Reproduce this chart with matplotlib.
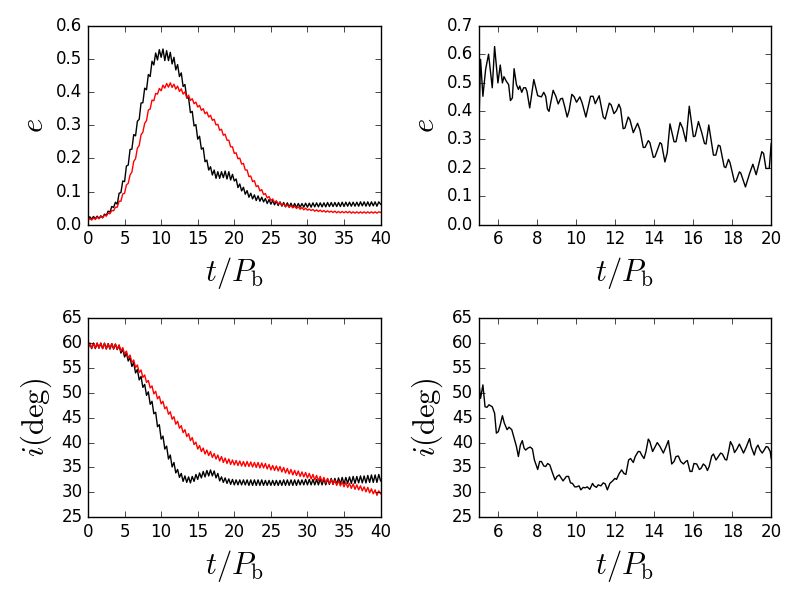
import numpy as np
import matplotlib
matplotlib.use('Agg')
import matplotlib.pyplot as plt

# left panels: sampled every 0.25 P_b from 0 to 40
t_left = np.arange(0, 40.01, 0.25)

e_black = [
    0.016, 0.024, 0.017, 0.025, 0.018, 0.026, 0.019, 0.027,
    0.021, 0.032, 0.028, 0.041, 0.038, 0.055, 0.052, 0.068,
    0.062, 0.095, 0.097, 0.132, 0.130, 0.177, 0.180, 0.227,
    0.228, 0.272, 0.268, 0.312, 0.318, 0.367, 0.368, 0.412,
    0.407, 0.453, 0.447, 0.493, 0.482, 0.518, 0.497, 0.528,
    0.505, 0.530, 0.495, 0.525, 0.495, 0.520, 0.485, 0.505,
    0.467, 0.483, 0.447, 0.458, 0.417, 0.423, 0.382, 0.383,
    0.338, 0.342, 0.298, 0.302, 0.258, 0.267, 0.228, 0.232,
    0.190, 0.195, 0.165, 0.175, 0.150, 0.165, 0.140, 0.160,
    0.140, 0.160, 0.142, 0.162, 0.138, 0.160, 0.135, 0.152,
    0.132, 0.138, 0.112, 0.123, 0.102, 0.113, 0.092, 0.103,
    0.083, 0.095, 0.078, 0.090, 0.073, 0.087, 0.071, 0.083,
    0.069, 0.079, 0.064, 0.076, 0.062, 0.073, 0.060, 0.071,
    0.058, 0.069, 0.056, 0.067, 0.054, 0.066, 0.053, 0.065,
    0.052, 0.064, 0.052, 0.064, 0.053, 0.064, 0.053, 0.065,
    0.053, 0.065, 0.053, 0.066, 0.054, 0.066, 0.054, 0.066,
    0.054, 0.066, 0.054, 0.067, 0.055, 0.067, 0.055, 0.067,
    0.055, 0.067, 0.055, 0.068, 0.055, 0.068, 0.056, 0.068,
    0.056, 0.068, 0.056, 0.068, 0.056, 0.069, 0.057, 0.069,
    0.056, 0.069, 0.056, 0.069, 0.057, 0.069, 0.056, 0.069,
    0.062,
]

e_red = [
    0.012, 0.019, 0.014, 0.021, 0.016, 0.023, 0.018, 0.025,
    0.021, 0.029, 0.026, 0.035, 0.033, 0.043, 0.042, 0.053,
    0.053, 0.071, 0.071, 0.093, 0.095, 0.120, 0.125, 0.150,
    0.159, 0.191, 0.199, 0.231, 0.239, 0.271, 0.279, 0.306,
    0.314, 0.346, 0.349, 0.376, 0.374, 0.396, 0.394, 0.411,
    0.404, 0.421, 0.412, 0.426, 0.415, 0.428, 0.414, 0.424,
    0.409, 0.418, 0.402, 0.410, 0.394, 0.401, 0.384, 0.391,
    0.375, 0.380, 0.365, 0.370, 0.355, 0.360, 0.345, 0.350,
    0.335, 0.340, 0.325, 0.330, 0.315, 0.318, 0.301, 0.303,
    0.285, 0.288, 0.270, 0.273, 0.255, 0.255, 0.235, 0.235,
    0.215, 0.217, 0.199, 0.201, 0.183, 0.185, 0.165, 0.165,
    0.145, 0.147, 0.130, 0.133, 0.115, 0.118, 0.102, 0.106,
    0.091, 0.094, 0.081, 0.085, 0.073, 0.078, 0.067, 0.072,
    0.063, 0.067, 0.059, 0.063, 0.055, 0.060, 0.053, 0.058,
    0.051, 0.056, 0.049, 0.054, 0.047, 0.052, 0.045, 0.050,
    0.044, 0.047, 0.043, 0.046, 0.041, 0.045, 0.040, 0.044,
    0.039, 0.043, 0.038, 0.042, 0.038, 0.041, 0.037, 0.041,
    0.036, 0.040, 0.036, 0.040, 0.036, 0.040, 0.036, 0.040,
    0.035, 0.039, 0.035, 0.039, 0.035, 0.039, 0.035, 0.039,
    0.035, 0.039, 0.035, 0.039, 0.035, 0.039, 0.035, 0.039,
    0.037,
]

i_black = [
    58.9, 60.0, 58.9, 60.0, 58.9, 60.0, 59.0, 60.0,
    58.9, 60.0, 58.8, 59.9, 58.8, 59.9, 58.8, 59.8,
    58.7, 59.6, 58.0, 58.8, 57.2, 58.0, 56.4, 57.1,
    55.3, 56.1, 54.0, 54.7, 52.6, 53.3, 51.1, 51.7,
    49.5, 50.2, 47.7, 48.3, 45.8, 46.1, 43.2, 43.6,
    40.7, 41.3, 38.7, 39.3, 36.7, 37.5, 35.1, 36.0,
    33.9, 34.6, 33.0, 33.8, 32.2, 33.3, 32.0, 33.1,
    31.9, 33.2, 32.2, 33.6, 32.6, 33.9, 32.9, 34.2,
    33.1, 34.4, 33.3, 34.5, 33.3, 34.3, 32.9, 33.8,
    32.3, 33.1, 32.0, 32.9, 31.8, 32.7, 31.6, 32.6,
    31.5, 32.5, 31.5, 32.5, 31.5, 32.5, 31.5, 32.5,
    31.4, 32.5, 31.4, 32.5, 31.4, 32.5, 31.4, 32.5,
    31.4, 32.4, 31.4, 32.4, 31.4, 32.4, 31.4, 32.4,
    31.4, 32.4, 31.4, 32.5, 31.4, 32.5, 31.4, 32.5,
    31.4, 32.5, 31.4, 32.5, 31.5, 32.5, 31.5, 32.6,
    31.5, 32.6, 31.5, 32.6, 31.5, 32.6, 31.5, 32.7,
    31.5, 32.7, 31.5, 32.7, 31.6, 32.8, 31.6, 32.8,
    31.6, 32.9, 31.7, 33.0, 31.7, 33.0, 31.8, 33.1,
    31.8, 33.2, 31.8, 33.2, 31.9, 33.3, 31.9, 33.3,
    31.9, 33.4, 32.0, 33.5, 32.0, 33.5, 32.0, 33.6,
    32.3,
]

i_red = [
    59.0, 60.0, 59.0, 60.0, 59.0, 60.0, 59.0, 60.0,
    58.9, 59.9, 58.9, 59.9, 58.9, 59.9, 58.9, 59.8,
    58.8, 59.6, 58.4, 59.1, 57.8, 58.4, 57.0, 57.6,
    56.1, 56.6, 55.1, 55.6, 54.1, 54.6, 53.1, 53.6,
    52.1, 52.5, 51.0, 51.4, 49.8, 50.3, 48.8, 49.3,
    47.8, 48.3, 46.8, 47.2, 45.7, 46.2, 44.7, 45.2,
    43.7, 44.3, 42.9, 43.4, 42.0, 42.6, 41.2, 41.8,
    40.4, 41.0, 39.6, 40.1, 38.7, 39.4, 38.2, 38.9,
    37.7, 38.5, 37.4, 38.2, 37.0, 37.8, 36.7, 37.5,
    36.3, 37.2, 36.0, 36.9, 35.8, 36.7, 35.6, 36.5,
    35.5, 36.4, 35.4, 36.3, 35.3, 36.2, 35.2, 36.2,
    35.2, 36.1, 35.1, 36.0, 35.0, 36.0, 34.9, 35.9,
    34.9, 35.8, 34.7, 35.6, 34.5, 35.4, 34.4, 35.3,
    34.3, 35.2, 34.1, 35.0, 33.9, 34.8, 33.7, 34.6,
    33.5, 34.4, 33.4, 34.3, 33.2, 34.1, 33.1, 34.0,
    32.9, 33.8, 32.7, 33.6, 32.5, 33.4, 32.3, 33.2,
    32.1, 33.0, 31.9, 32.8, 31.8, 32.6, 31.6, 32.4,
    31.4, 32.3, 31.3, 32.1, 31.1, 32.0, 31.0, 31.8,
    30.8, 31.7, 30.6, 31.5, 30.5, 31.3, 30.3, 31.1,
    30.1, 31.0, 29.9, 30.7, 29.7, 30.5, 29.4, 30.3,
    29.7,
]

# right panels: turning points, t from 5 to 20
t_e_zoom = [
    5.00, 5.10, 5.22, 5.36, 5.51, 5.70, 5.82, 5.99, 6.11, 6.22, 6.30, 6.42,
    6.54, 6.63, 6.73, 6.82, 6.94, 7.04, 7.11, 7.21, 7.31, 7.41, 7.48, 7.62,
    7.83, 8.03, 8.22, 8.34, 8.44, 8.53, 8.61, 8.82, 8.96, 9.08, 9.20, 9.30,
    9.42, 9.54, 9.64, 9.78, 9.90, 10.02, 10.19, 10.31, 10.50, 10.74, 10.87,
    10.98, 11.18, 11.39, 11.49, 11.70, 11.80, 11.94, 12.07, 12.19, 12.28,
    12.41, 12.50, 12.67, 12.76, 12.93, 13.15, 13.27, 13.44, 13.53, 13.70,
    13.78, 13.96, 14.04, 14.30, 14.38, 14.55, 14.67, 14.81, 15.02, 15.12,
    15.33, 15.46, 15.63, 15.80, 16.01, 16.10, 16.27, 16.44, 16.58, 16.66,
    16.80, 17.04, 17.16, 17.29, 17.38, 17.59, 17.67, 17.81, 17.89, 18.12,
    18.20, 18.37, 18.44, 18.68, 18.89, 19.06, 19.23, 19.52, 19.61, 19.73,
    19.90, 20.00,
]
e_zoom = [
    0.310, 0.582, 0.452, 0.547, 0.600, 0.482, 0.627, 0.499, 0.562, 0.499, 0.521, 0.505,
    0.493, 0.437, 0.446, 0.549, 0.493, 0.476, 0.488, 0.466, 0.482, 0.482, 0.469, 0.411,
    0.511, 0.454, 0.450, 0.466, 0.452, 0.407, 0.399, 0.473, 0.452, 0.425, 0.443, 0.445,
    0.414, 0.379, 0.402, 0.459, 0.450, 0.431, 0.450, 0.428, 0.379, 0.452, 0.452,
    0.426, 0.454, 0.379, 0.372, 0.428, 0.421, 0.391, 0.402, 0.424, 0.409,
    0.338, 0.340, 0.379, 0.369, 0.324, 0.357, 0.334, 0.272, 0.272, 0.296,
    0.289, 0.237, 0.239, 0.289, 0.284, 0.221, 0.253, 0.355, 0.292, 0.292,
    0.360, 0.340, 0.293, 0.417, 0.310, 0.312, 0.363, 0.324, 0.286, 0.284,
    0.351, 0.245, 0.245, 0.280, 0.277, 0.204, 0.201, 0.230, 0.218, 0.150,
    0.154, 0.186, 0.182, 0.133, 0.180, 0.213, 0.176, 0.257, 0.251, 0.198,
    0.198, 0.286,
]

t_i_zoom = [
    5.00, 5.10, 5.22, 5.33, 5.43, 5.53, 5.70, 5.82, 5.91, 6.01, 6.11, 6.22,
    6.32, 6.46, 6.56, 6.70, 6.80, 6.94, 7.04, 7.14, 7.24, 7.33, 7.41, 7.53,
    7.65, 7.76, 7.86, 8.03, 8.13, 8.22, 8.34, 8.44, 8.54, 8.65, 8.78, 8.92,
    9.02, 9.13, 9.25, 9.33, 9.50, 9.61, 9.71, 9.81, 9.93, 10.02, 10.15, 10.24,
    10.36, 10.46, 10.57, 10.70, 10.84, 10.92, 11.04, 11.13, 11.27, 11.39,
    11.49, 11.60, 11.73, 11.87, 11.99, 12.07, 12.21, 12.33, 12.45, 12.55,
    12.69, 12.79, 12.93, 13.03, 13.18, 13.27, 13.36, 13.48, 13.58, 13.70,
    13.78, 13.92, 14.04, 14.16, 14.30, 14.47, 14.61, 14.73, 14.85, 14.90,
    15.02, 15.12, 15.24, 15.36, 15.50, 15.62, 15.70, 15.84, 15.94, 16.04,
    16.18, 16.32, 16.40, 16.52, 16.63, 16.73, 16.82, 16.95, 17.04, 17.17,
    17.29, 17.41, 17.50, 17.64, 17.72, 17.83, 17.91, 18.03, 18.12, 18.24,
    18.37, 18.49, 18.58, 18.72, 18.89, 18.97, 19.13, 19.23, 19.32, 19.43,
    19.54, 19.64, 19.74, 19.83, 19.95, 20.00,
]
i_zoom = [
    52.5, 48.9, 51.6, 47.2, 47.1, 47.6, 47.2, 45.9, 41.9, 42.2, 43.6, 45.4,
    43.9, 42.6, 43.1, 42.6, 41.2, 39.2, 37.2, 39.5, 40.4, 38.9, 38.5, 38.9,
    39.1, 38.7, 36.5, 34.6, 36.2, 36.2, 35.3, 35.2, 35.8, 35.5, 34.0, 32.5,
    33.2, 33.5, 32.8, 32.3, 33.2, 33.2, 31.9, 31.8, 31.1, 31.1, 31.3, 30.5,
    31.0, 30.9, 31.1, 30.6, 31.8, 31.3, 31.0, 31.5, 31.3, 31.9,
    31.7, 30.5, 31.8, 32.3, 32.8, 32.6, 33.8, 34.5, 33.8, 33.6,
    36.5, 36.8, 36.0, 37.2, 38.2, 38.2, 37.5, 36.8, 38.2, 40.7,
    40.2, 38.2, 39.1, 40.0, 39.2, 37.9, 39.2, 40.4, 37.2, 35.7,
    36.2, 37.2, 37.3, 36.2, 35.7, 36.2, 36.4, 34.2, 34.2, 35.8,
    35.7, 34.6, 34.8, 35.7, 35.3, 34.4, 35.2, 37.3, 37.7, 36.5,
    37.2, 37.9, 37.7, 36.6, 36.5, 38.5, 40.2, 39.3, 38.0, 38.7,
    39.7, 38.7, 37.9, 39.1, 40.8, 39.2, 37.5, 38.9, 39.5, 38.5,
    37.9, 38.5, 39.2, 39.1, 38.2, 36.8,
]

plt.style.use('classic')
plt.rcParams['figure.facecolor'] = 'white'
plt.rcParams['savefig.facecolor'] = 'white'

fig, axes = plt.subplots(2, 2, figsize=(8, 6), dpi=100)
fig.subplots_adjust(left=0.11, right=0.964, top=0.957, bottom=0.138,
                    wspace=0.335, hspace=0.47)

lab_size = 22
xlab = r'$t/P_{\rm b}$'

ax = axes[0, 0]
ax.plot(t_left, e_black, 'k-')
ax.plot(t_left, e_red, 'r-')
ax.set_xlim(0, 40)
ax.set_ylim(0, 0.6)
ax.set_xticks(np.arange(0, 41, 5))
ax.set_yticks(np.arange(0, 0.61, 0.1))
ax.set_xlabel(xlab, fontsize=lab_size)
ax.set_ylabel(r'$e$', fontsize=lab_size)

ax = axes[0, 1]
ax.plot(t_e_zoom, e_zoom, 'k-')
ax.set_xlim(5, 20)
ax.set_ylim(0, 0.7)
ax.set_xticks(np.arange(6, 21, 2))
ax.set_yticks(np.arange(0, 0.71, 0.1))
ax.set_xlabel(xlab, fontsize=lab_size)
ax.set_ylabel(r'$e$', fontsize=lab_size)

ax = axes[1, 0]
ax.plot(t_left, i_black, 'k-')
ax.plot(t_left, i_red, 'r-')
ax.set_xlim(0, 40)
ax.set_ylim(25, 65)
ax.set_xticks(np.arange(0, 41, 5))
ax.set_yticks(np.arange(25, 66, 5))
ax.set_xlabel(xlab, fontsize=lab_size)
ax.set_ylabel(r'$i ({\rm deg})$', fontsize=lab_size)

ax = axes[1, 1]
ax.plot(t_i_zoom, i_zoom, 'k-')
ax.set_xlim(5, 20)
ax.set_ylim(25, 65)
ax.set_xticks(np.arange(6, 21, 2))
ax.set_yticks(np.arange(25, 66, 5))
ax.set_xlabel(xlab, fontsize=lab_size)
ax.set_ylabel(r'$i ({\rm deg})$', fontsize=lab_size)

for a in axes.flat:
    a.tick_params(labelsize=12)

fig.savefig('out.png', dpi=100)
